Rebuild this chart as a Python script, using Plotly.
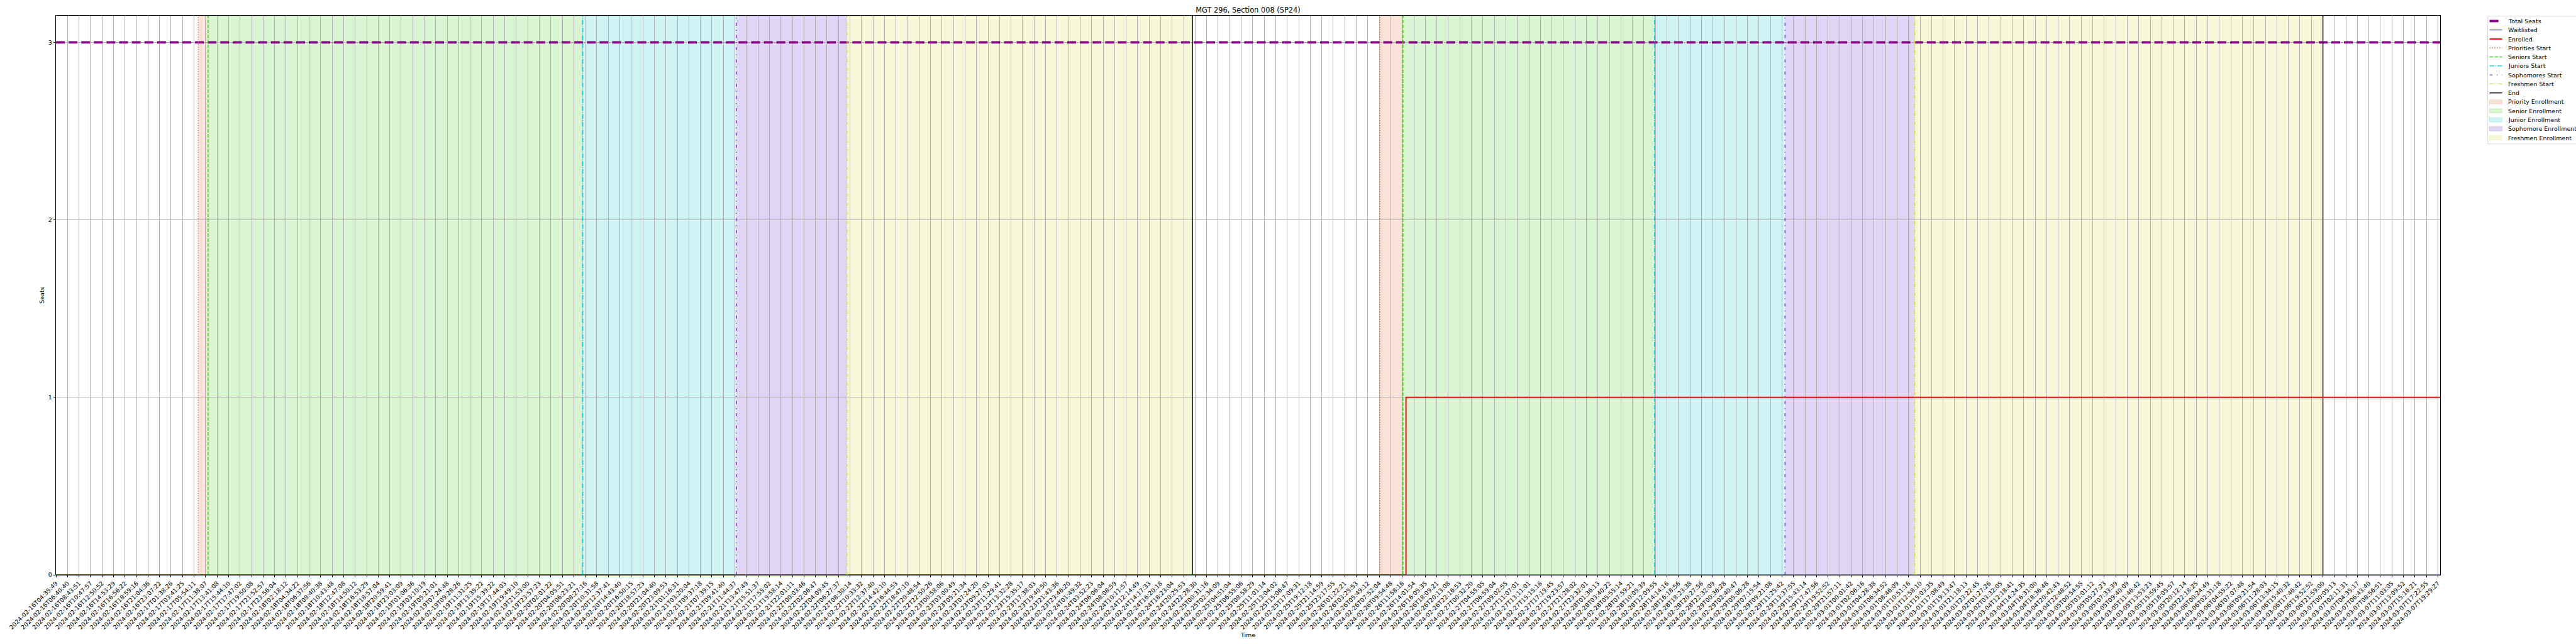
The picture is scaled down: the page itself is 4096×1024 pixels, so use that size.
import numpy as np
import plotly.graph_objects as go

# ---------------- data ----------------
tick_labels = [
    "2024-02-16T04:35:49", "2024-02-16T06:40:40", "2024-02-16T08:43:51", "2024-02-16T10:47:57",
    "2024-02-16T12:50:52", "2024-02-16T14:53:29", "2024-02-16T16:56:22", "2024-02-16T18:59:16",
    "2024-02-16T21:04:36", "2024-02-16T23:07:22", "2024-02-17T01:38:26", "2024-02-17T03:41:25",
    "2024-02-17T05:54:11", "2024-02-17T11:38:07", "2024-02-17T13:41:08", "2024-02-17T15:44:10",
    "2024-02-17T17:47:02", "2024-02-17T19:50:08", "2024-02-17T21:52:57", "2024-02-17T23:56:04",
    "2024-02-18T02:18:12", "2024-02-18T04:34:22", "2024-02-18T06:37:56", "2024-02-18T08:40:38",
    "2024-02-18T10:43:48", "2024-02-18T12:47:08", "2024-02-18T14:50:12", "2024-02-18T16:53:29",
    "2024-02-18T18:57:04", "2024-02-18T20:59:41", "2024-02-18T23:03:09", "2024-02-19T01:06:36",
    "2024-02-19T03:10:19", "2024-02-19T05:21:01", "2024-02-19T07:24:48", "2024-02-19T09:28:26",
    "2024-02-19T11:31:25", "2024-02-19T13:35:22", "2024-02-19T15:39:22", "2024-02-19T17:44:03",
    "2024-02-19T19:49:10", "2024-02-19T21:53:00", "2024-02-19T23:57:23", "2024-02-20T02:01:22",
    "2024-02-20T04:05:51", "2024-02-20T06:23:21", "2024-02-20T08:27:16", "2024-02-20T10:31:58",
    "2024-02-20T12:37:41", "2024-02-20T14:43:40", "2024-02-20T16:50:15", "2024-02-20T18:57:23",
    "2024-02-20T21:04:40", "2024-02-20T23:09:53", "2024-02-21T01:16:31", "2024-02-21T03:20:04",
    "2024-02-21T05:37:18", "2024-02-21T07:39:15", "2024-02-21T09:41:40", "2024-02-21T11:44:37",
    "2024-02-21T13:47:49", "2024-02-21T15:51:37", "2024-02-21T17:55:02", "2024-02-21T19:58:14",
    "2024-02-21T22:01:11", "2024-02-22T00:03:46", "2024-02-22T02:06:47", "2024-02-22T04:09:45",
    "2024-02-22T06:27:37", "2024-02-22T08:30:14", "2024-02-22T10:33:32", "2024-02-22T12:37:40",
    "2024-02-22T14:42:10", "2024-02-22T16:44:53", "2024-02-22T18:47:10", "2024-02-22T20:48:54",
    "2024-02-22T22:50:26", "2024-02-23T00:58:06", "2024-02-23T03:00:49", "2024-02-23T05:21:34",
    "2024-02-23T07:24:20", "2024-02-23T09:27:03", "2024-02-23T11:29:41", "2024-02-23T13:32:28",
    "2024-02-23T15:35:17", "2024-02-23T17:38:03", "2024-02-23T19:40:50", "2024-02-23T21:43:36",
    "2024-02-23T23:46:20", "2024-02-24T01:49:32", "2024-02-24T03:52:23", "2024-02-24T06:06:04",
    "2024-02-24T08:08:59", "2024-02-24T10:11:57", "2024-02-24T12:14:49", "2024-02-24T14:17:33",
    "2024-02-24T16:20:18", "2024-02-24T18:23:04", "2024-02-24T20:25:53", "2024-02-24T22:28:30",
    "2024-02-25T00:31:16", "2024-02-25T02:34:09", "2024-02-25T04:51:04", "2024-02-25T06:55:06",
    "2024-02-25T08:58:29", "2024-02-25T11:01:14", "2024-02-25T13:04:02", "2024-02-25T15:06:47",
    "2024-02-25T17:09:31", "2024-02-25T19:12:18", "2024-02-25T21:14:59", "2024-02-25T23:17:55",
    "2024-02-26T01:22:21", "2024-02-26T03:25:53", "2024-02-26T05:49:12", "2024-02-26T07:52:04",
    "2024-02-26T09:54:48", "2024-02-26T11:58:16", "2024-02-26T14:01:54", "2024-02-26T16:05:35",
    "2024-02-26T18:09:21", "2024-02-26T20:13:08", "2024-02-26T22:16:53", "2024-02-27T00:32:20",
    "2024-02-27T04:55:05", "2024-02-27T06:59:04", "2024-02-27T09:02:55", "2024-02-27T11:07:01",
    "2024-02-27T13:11:01", "2024-02-27T15:15:16", "2024-02-27T17:19:45", "2024-02-27T19:23:57",
    "2024-02-27T21:28:02", "2024-02-27T23:32:01", "2024-02-28T01:36:13", "2024-02-28T03:40:22",
    "2024-02-28T05:55:14", "2024-02-28T07:59:21", "2024-02-28T10:05:39", "2024-02-28T12:09:55",
    "2024-02-28T14:14:16", "2024-02-28T16:18:56", "2024-02-28T18:23:38", "2024-02-28T20:27:56",
    "2024-02-28T22:32:09", "2024-02-29T00:36:28", "2024-02-29T02:40:47", "2024-02-29T05:06:28",
    "2024-02-29T07:15:54", "2024-02-29T09:21:08", "2024-02-29T11:25:42", "2024-02-29T13:37:55",
    "2024-02-29T15:43:14", "2024-02-29T17:47:56", "2024-02-29T19:52:52", "2024-02-29T21:57:11",
    "2024-03-01T00:01:42", "2024-03-01T02:06:16", "2024-03-01T04:28:38", "2024-03-01T06:34:52",
    "2024-03-01T08:46:09", "2024-03-01T10:51:16", "2024-03-01T12:58:10", "2024-03-01T15:03:35",
    "2024-03-01T17:08:49", "2024-03-01T19:13:47", "2024-03-01T21:18:13", "2024-03-01T23:22:45",
    "2024-03-02T01:27:26", "2024-03-02T03:32:05", "2024-03-04T12:18:41", "2024-03-04T14:24:35",
    "2024-03-04T16:31:00", "2024-03-04T18:36:48", "2024-03-04T20:42:43", "2024-03-04T22:48:52",
    "2024-03-05T00:54:55", "2024-03-05T03:01:12", "2024-03-05T05:27:23", "2024-03-05T07:33:39",
    "2024-03-05T09:40:09", "2024-03-05T11:46:42", "2024-03-05T13:53:23", "2024-03-05T15:59:45",
    "2024-03-05T18:05:57", "2024-03-05T20:12:14", "2024-03-05T22:18:25", "2024-03-06T00:24:49",
    "2024-03-06T02:31:18", "2024-03-06T04:55:22", "2024-03-06T07:07:48", "2024-03-06T09:21:54",
    "2024-03-06T11:28:03", "2024-03-06T13:34:15", "2024-03-06T15:40:32", "2024-03-06T17:46:42",
    "2024-03-06T19:52:52", "2024-03-06T21:59:00", "2024-03-07T00:05:13", "2024-03-07T02:11:31",
    "2024-03-07T04:35:17", "2024-03-07T06:43:40", "2024-03-07T08:56:51", "2024-03-07T11:03:05",
    "2024-03-07T13:09:52", "2024-03-07T15:16:21", "2024-03-07T17:22:55", "2024-03-07T19:29:27",
]

# seat counts at the times where they change (step series)
series_times = ["2024-02-16T04:35:49", "2024-02-26T12:38:00", "2024-03-07T19:54:00"]
total_seats = [3, 3, 3]
waitlisted = [0, 0, 0]
enrolled = [0, 1, 1]

start_names = ["Priorities Start", "Seniors Start", "Juniors Start", "Sophomores Start", "Freshmen Start"]
phase_names = ["Priority Enrollment", "Senior Enrollment", "Junior Enrollment",
               "Sophomore Enrollment", "Freshmen Enrollment"]
round1_starts = ["2024-02-17T08:00:00", "2024-02-17T12:05:00", "2024-02-20T08:00:00",
                 "2024-02-21T12:00:00", "2024-02-22T08:00:00"]
round1_end = "2024-02-24T22:00:00"
round2_starts = ["2024-02-26T08:00:00", "2024-02-26T12:05:00", "2024-02-28T12:00:00",
                 "2024-02-29T12:00:00", "2024-03-01T12:00:00"]
round2_end = "2024-03-06T22:00:00"

title_text = "MGT 296, Section 008 (SP24)"

# ---------------- styles ----------------
FONT = "DejaVu Sans"
FIG_W, FIG_H = 4096, 1024
M_L, M_R, M_T, M_B = 89, 216, 25, 110
PW, PH = FIG_W - M_L - M_R, FIG_H - M_T - M_B

base_rgb = [(226, 110, 60), (60, 200, 30), (16, 190, 205), (106, 47, 208), (215, 220, 60)]
line_cols = ["rgb(%d,%d,%d)" % c for c in base_rgb]
fill_cols = ["rgba(%d,%d,%d,0.2)" % c for c in base_rgb]
start_dash = ["1.4px,2.5px", "5.7px,2.2px", "7.5px,1.9px,1.2px,1.9px",
              "4.8px,6.6px,1.4px,6.6px", "5.5px,2px,1.4px,2px,1.4px,2px"]
VLW = 1.4

# ---------------- category positions ----------------
tick_sec = np.array(tick_labels, dtype="datetime64[s]").astype(np.int64).astype(float)
tick_idx = np.arange(len(tick_labels), dtype=float)


def pos(t):
    s = float(np.array(t, dtype="datetime64[s]").astype(np.int64))
    if s > tick_sec[-1]:
        return tick_idx[-1] + (s - tick_sec[-1]) / (tick_sec[-1] - tick_sec[-2])
    if s < tick_sec[0]:
        return (s - tick_sec[0]) / (tick_sec[1] - tick_sec[0])
    return float(np.interp(s, tick_sec, tick_idx))


sx = [pos(t) for t in series_times]

fig = go.Figure()
fig.add_trace(go.Scatter(x=sx, y=total_seats, mode="lines", name="Total Seats",
                         line=dict(color="#800080", width=3.8, dash="14px,6.1px", shape="hv"),
                         showlegend=False))
fig.add_trace(go.Scatter(x=sx, y=waitlisted, mode="lines", name="Waitlisted",
                         line=dict(color="#0000ff", width=1.0, shape="hv"), showlegend=False))
fig.add_trace(go.Scatter(x=sx, y=enrolled, mode="lines", name="Enrolled",
                         line=dict(color="#ff0000", width=1.9, shape="hv"), showlegend=False))

shapes = []
for starts, end in [(round1_starts, round1_end), (round2_starts, round2_end)]:
    bounds = [pos(t) for t in starts] + [pos(end)]
    for i in range(5):
        shapes.append(dict(type="rect", xref="x", yref="paper", x0=bounds[i], x1=bounds[i + 1],
                           y0=0, y1=1, fillcolor=fill_cols[i], line=dict(width=0), layer="below"))
    for i in range(5):
        shapes.append(dict(type="line", xref="x", yref="paper", x0=bounds[i], x1=bounds[i],
                           y0=0, y1=1, line=dict(color=line_cols[i], width=VLW, dash=start_dash[i]),
                           layer="above"))
    shapes.append(dict(type="line", xref="x", yref="paper", x0=bounds[5], x1=bounds[5],
                       y0=0, y1=1, line=dict(color="black", width=VLW), layer="above"))


# ---------------- manual legend (pixel -> paper) ----------------
def pxx(px):
    return (px - M_L) / PW


def pxy(py):
    return (FIG_H - M_B - py) / PH


annotations = []
LX0, LX1, TX = 3958.6, 3978.6, 3985.7
Y0, DY = 33.45, 14.28
shapes.append(dict(type="rect", xref="paper", yref="paper", x0=pxx(3955.6), x1=pxx(4200),
                   y0=pxy(228.7), y1=pxy(25.5), fillcolor="rgba(255,255,255,0.8)",
                   line=dict(color="#cccccc", width=0.7), layer="above"))
legend_items = [("Total Seats", "line", dict(color="#800080", width=3.8, dash="14px,6.1px")),
                ("Waitlisted", "line", dict(color="#0000ff", width=1.0)),
                ("Enrolled", "line", dict(color="#ff0000", width=1.9))]
for i in range(5):
    legend_items.append((start_names[i], "line", dict(color=line_cols[i], width=VLW, dash=start_dash[i])))
legend_items.append(("End", "line", dict(color="black", width=VLW)))
for i in range(5):
    legend_items.append((phase_names[i], "patch", i))

for k, (name, kind, sty) in enumerate(legend_items):
    yc = Y0 + k * DY
    if kind == "line":
        shapes.append(dict(type="line", xref="paper", yref="paper", x0=pxx(LX0), x1=pxx(LX1),
                           y0=pxy(yc), y1=pxy(yc), line=sty, layer="above"))
    else:
        shapes.append(dict(type="rect", xref="paper", yref="paper", x0=pxx(LX0), x1=pxx(LX1),
                           y0=pxy(yc + 3.4), y1=pxy(yc - 3.4), fillcolor=fill_cols[sty],
                           line=dict(color=fill_cols[sty].replace("0.2)", "0.25)"), width=0.7),
                           layer="above"))
    annotations.append(dict(text=name, xref="paper", yref="paper", x=pxx(TX), y=pxy(yc),
                            xanchor="left", yanchor="middle", showarrow=False,
                            font=dict(family=FONT, size=9.5, color="black")))

axis_common = dict(showgrid=True, gridcolor="#b0b0b0", gridwidth=0.75, ticks="outside",
                   ticklen=3.3, tickwidth=0.75, tickcolor="black", showline=True,
                   linecolor="black", linewidth=0.9, mirror=True, zeroline=False,
                   automargin=False, tickfont=dict(family=FONT, size=9.5, color="black"))

fig.update_layout(
    width=FIG_W, height=FIG_H,
    margin=dict(l=M_L, r=M_R, t=M_T, b=M_B, autoexpand=False),
    paper_bgcolor="white", plot_bgcolor="white",
    font=dict(family=FONT, size=9.5, color="black"),
    title=dict(text=title_text, x=0.5, xref="paper", xanchor="center",
               y=1 - 15.7 / FIG_H, yref="container", yanchor="middle",
               font=dict(family=FONT, size=11.4, color="black")),
    xaxis=dict(range=[sx[0], sx[-1]], tickmode="array", tickvals=list(tick_idx), ticktext=tick_labels,
               tickangle=-45, title=dict(text="Time", standoff=4, font=dict(family=FONT, size=9.5)),
               **axis_common),
    yaxis=dict(range=[0, 3.15], tickmode="array", tickvals=[0, 1, 2, 3], ticktext=["0", "1", "2", "3"],
               title=dict(text="Seats", standoff=4, font=dict(family=FONT, size=9.5)),
               **axis_common),
    shapes=shapes, annotations=annotations, showlegend=False,
)

fig.write_html("out.html", config={"displayModeBar": False},
               post_script="document.body.style.margin='0';")
